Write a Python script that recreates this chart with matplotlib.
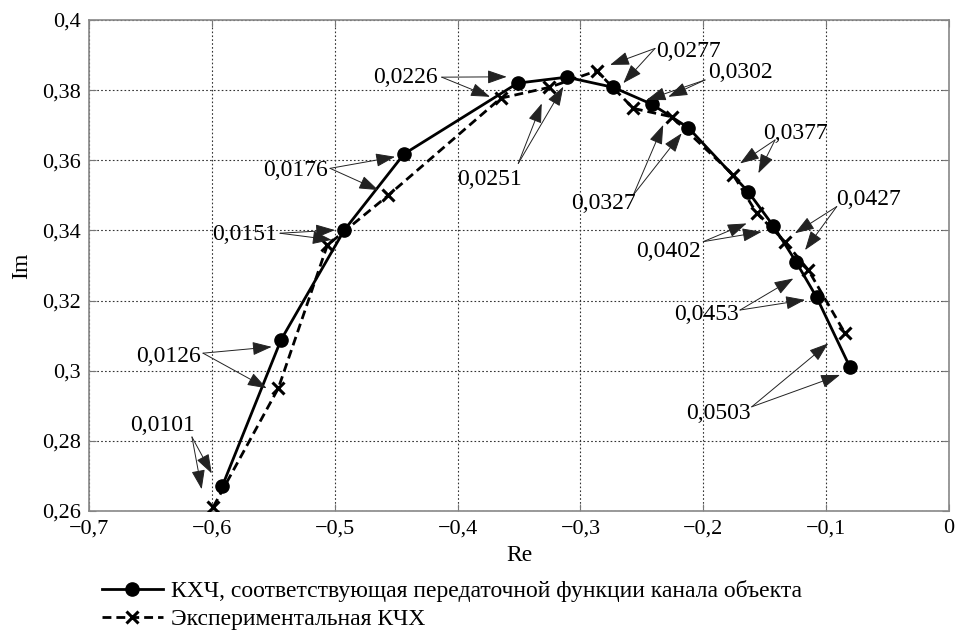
import matplotlib
matplotlib.use("Agg")
import matplotlib.pyplot as plt
from matplotlib.ticker import FuncFormatter

plt.rcParams['font.family'] = ['Liberation Serif', 'DejaVu Serif']

# КХЧ, соответствующая передаточной функции канала объекта
model_re = [-0.5915, -0.5437, -0.4922, -0.4436, -0.3511, -0.3112, -0.2733,
            -0.2420, -0.2122, -0.1634, -0.1430, -0.1246, -0.1077, -0.0806]
model_im = [0.2671, 0.3088, 0.3401, 0.3618, 0.3820, 0.3837, 0.3808,
            0.3760, 0.3693, 0.3510, 0.3413, 0.3311, 0.3209, 0.3010]

# экспериментальная КЧХ
exp_re = [-0.5988, -0.5459, -0.5060, -0.4564, -0.3649, -0.3253, -0.2868,
          -0.2570, -0.2257, -0.1756, -0.1565, -0.1335, -0.1145, -0.0847]
exp_im = [0.2612, 0.2950, 0.3358, 0.3500, 0.3777, 0.3808, 0.3855,
          0.3748, 0.3724, 0.3558, 0.3449, 0.3368, 0.3287, 0.3107]

# подписи частот, их положение, начало стрелок и два острия
freq_labels = ['0,0101', '0,0126', '0,0151', '0,0176', '0,0226', '0,0251',
               '0,0277', '0,0302', '0,0327', '0,0377', '0,0402', '0,0427',
               '0,0453', '0,0503']
label_xy = [(-0.6398, 0.2845), (-0.6355, 0.3040), (-0.5730, 0.3387),
            (-0.5323, 0.3570), (-0.4428, 0.3837), (-0.3742, 0.3544),
            (-0.2122, 0.3910), (-0.1701, 0.3850), (-0.2814, 0.3477),
            (-0.1254, 0.3677), (-0.2285, 0.3339), (-0.0657, 0.3487),
            (-0.1972, 0.3159), (-0.1878, 0.2879)]
arrow_from = [(-0.6162, 0.2811), (-0.6072, 0.3050), (-0.5445, 0.3392),
              (-0.5038, 0.3577), (-0.4129, 0.3837), (-0.3506, 0.3591),
              (-0.2393, 0.3919), (-0.1986, 0.3829), (-0.2570, 0.3501),
              (-0.1416, 0.3658), (-0.2000, 0.3368), (-0.0914, 0.3468),
              (-0.1701, 0.3173), (-0.1606, 0.2897)]
tip_a = [(-0.6001, 0.2707), (-0.5513, 0.3068), (-0.4998, 0.3401),
         (-0.4509, 0.3610), (-0.3600, 0.3838), (-0.3315, 0.3762),
         (-0.2759, 0.3872), (-0.2461, 0.3772), (-0.2326, 0.3701),
         (-0.1701, 0.3591), (-0.1647, 0.3420), (-0.1254, 0.3392),
         (-0.1267, 0.3263), (-0.0983, 0.3078)]
tip_b = [(-0.6083, 0.2662), (-0.5554, 0.2950), (-0.5025, 0.3373),
         (-0.4645, 0.3515), (-0.3736, 0.3781), (-0.3139, 0.3810),
         (-0.2651, 0.3820), (-0.2285, 0.3781), (-0.2176, 0.3677),
         (-0.1552, 0.3563), (-0.1525, 0.3396), (-0.1172, 0.3344),
         (-0.1172, 0.3202), (-0.0887, 0.2988)]

x_ticks = [-0.7, -0.6, -0.5, -0.4, -0.3, -0.2, -0.1, 0]
y_ticks = [0.26, 0.28, 0.30, 0.32, 0.34, 0.36, 0.38, 0.40]


def comma(v, pos):
    return f"{v:g}".replace('.', ',').replace('-', '\u2212')


fig = plt.figure(figsize=(9.56, 6.31), dpi=100)
ax = fig.add_axes([0.0931, 0.1902, 0.8996, 0.7781])

ax.plot(model_re, model_im, '-o', color='black', lw=2.0, ms=9.5,
        label='КХЧ, соответствующая передаточной функции канала объекта',
        zorder=3)
ax.plot(exp_re, exp_im, '--x', color='black', lw=2.0, ms=9, mew=2.2,
        dashes=(3.2, 1.8), label='Экспериментальная КЧХ', zorder=3)

arrow_style = dict(arrowstyle='-|>,head_length=1.2,head_width=0.42',
                   color='#222222', lw=0.7, mutation_scale=10,
                   shrinkA=0, shrinkB=0)
for text, xy, start, a, b in zip(freq_labels, label_xy, arrow_from, tip_a, tip_b):
    ax.text(xy[0], xy[1], text, fontsize=17, ha='center', va='center',
            zorder=5)
    ax.annotate('', xy=a, xytext=start, arrowprops=arrow_style, zorder=4)
    ax.annotate('', xy=b, xytext=start, arrowprops=arrow_style, zorder=4)

ax.set_xlim(-0.7, 0)
ax.set_ylim(0.26, 0.4)
ax.set_xticks(x_ticks)
ax.set_yticks(y_ticks)
ax.xaxis.set_major_formatter(FuncFormatter(comma))
ax.yaxis.set_major_formatter(FuncFormatter(comma))
ax.tick_params(direction='in', top=True, right=True, length=5,
               color='#777777', labelsize=16, pad=6)
ax.grid(True, linestyle=(0, (1.5, 2)), color='#333333', lw=0.8)
for s in ax.spines.values():
    s.set_color('#888888')
    s.set_linewidth(1.2)

ax.set_xlabel('Re', fontsize=17, labelpad=5)
ax.set_ylabel('Im', fontsize=17, labelpad=7)

fig.legend(loc='upper left', bbox_to_anchor=(0.1064, 0.0808), frameon=False,
           fontsize=17, handlelength=2.6, handletextpad=0.34,
           labelspacing=0.28, borderpad=0, borderaxespad=0)

fig.savefig('out.png', dpi=100)
